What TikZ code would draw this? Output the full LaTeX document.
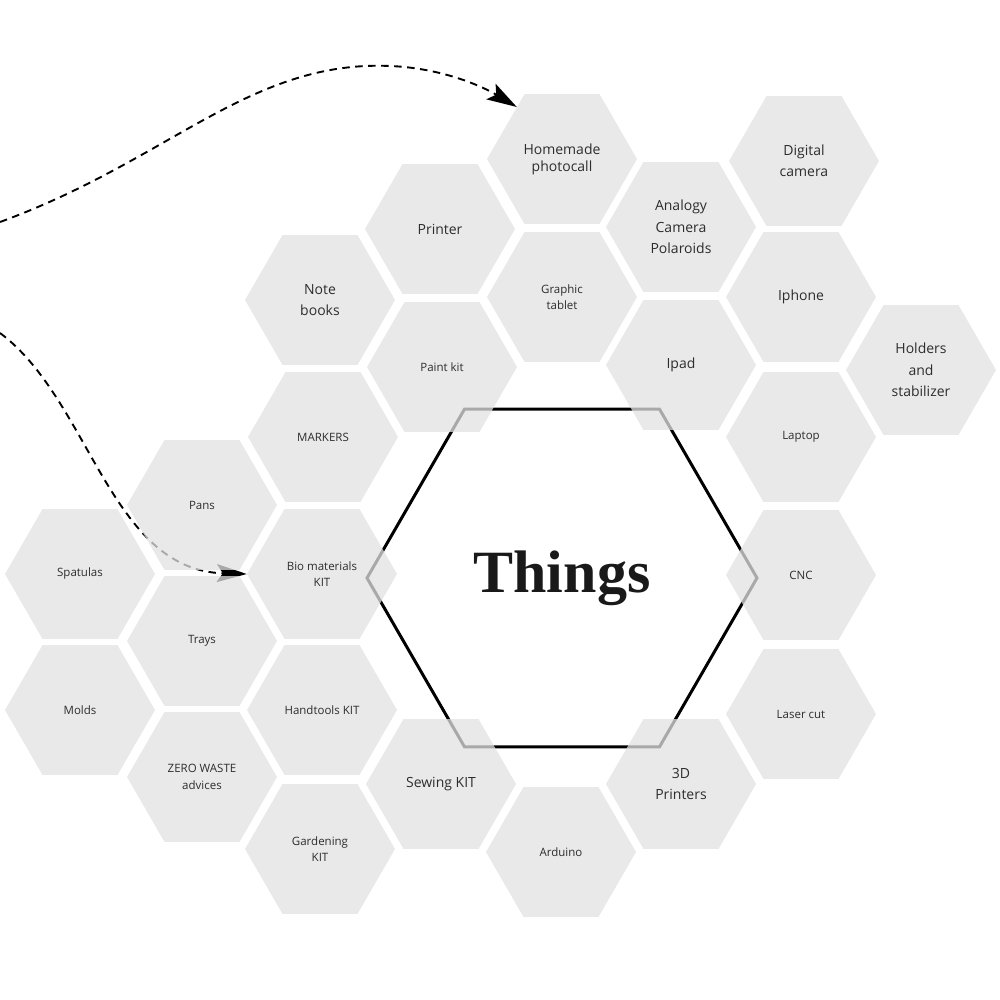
\documentclass[tikz,border=0pt]{standalone}
\usepackage{fontspec}
\setmainfont{Open Sans}
\newfontfamily\titlefont{Liberation Serif}
\usepackage{tikz}
\usetikzlibrary{shapes.geometric}
\usetikzlibrary{arrows.meta}
\usetikzlibrary{backgrounds}

\definecolor{hexgray}{RGB}{226,226,226}
\definecolor{inkgray}{RGB}{45,45,45}

\begin{document}
\begin{tikzpicture}[x=1pt,y=-1pt,
  hexa/.style={regular polygon,regular polygon sides=6,minimum size=150pt,inner sep=0pt,
    fill=hexgray,fill opacity=0.75,text opacity=1,text=inkgray,align=center},
  bighex/.style={hexa,font=\fontsize{14}{21.5}\selectfont},
  smallhex/.style={hexa,font=\fontsize{11.5}{16.5}\selectfont},
  trail/.style={line width=1.9pt,dash pattern=on 7.5pt off 5.5pt,
    -{Stealth[length=30pt,width=18pt,inset=6pt]}}]
\useasboundingbox (0,0) rectangle (1000,1000);

% centre
\node (things) at (562,578) [regular polygon,regular polygon sides=6,minimum size=390pt,
  inner sep=0pt,draw=black,line width=3pt,fill=white,text=black!90]
  {\titlefont\bfseries\fontsize{60}{60}\selectfont Things};

% right side
\node (homemade) at (562,159) [bighex,font=\fontsize{14}{17}\selectfont] {Homemade\\photocall};
\node (digital) at (804,161) [bighex] {Digital\\camera};
\node (printer) at (440,229) [bighex] {Printer};
\node (analogy) at (681,227) [bighex] {Analogy\\Camera\\Polaroids};
\node (notebooks) at (320,300) [bighex] {Note\\books};
\node (tablet) at (562,297) [smallhex] {Graphic\\tablet};
\node (iphone) at (801,297) [bighex] {Iphone};
\node (paintkit) at (442,367) [smallhex] {Paint kit};
\node (ipad) at (681,365) [bighex] {Ipad};
\node (holders) at (921,370) [bighex] {Holders\\and\\stabilizer};
\node (markers) at (323,437) [smallhex] {MARKERS};
\node (laptop) at (801,437) [smallhex] {Laptop};
\node (cnc) at (801,575) [smallhex] {CNC};
\node (lasercut) at (801,714) [smallhex] {Laser cut};
\node (printers3d) at (681,784) [bighex] {3D\\Printers};
\node (arduino) at (561,852) [smallhex] {Arduino};
\node (sewing) at (441,784) [bighex] {Sewing KIT};

% left side
\node (pans) at (202,505) [smallhex] {Pans};
\node (bio) at (322,574) [smallhex] {Bio materials\\KIT};
\node (spatulas) at (80,574) [smallhex] {Spatulas};
\node (trays) at (202,641) [smallhex] {Trays};
\node (molds) at (80,710) [smallhex] {Molds};
\node (handtools) at (322,710) [smallhex] {Handtools KIT};
\node (zerowaste) at (202,777) [smallhex] {ZERO WASTE\\advices};
\node (gardening) at (320,849) [smallhex] {Gardening\\KIT};

% dashed arrows, under the hexagons
\coordinate (in1) at (0,222);
\coordinate (in2) at (0,333);
\begin{scope}[on background layer]
\draw [trail] (in1) .. controls (170,160) and (250,60) .. (390,66)
  .. controls (440,68) and (480,85) .. (homemade.131);
\draw [trail] (in2) .. controls (90,400) and (110,570) .. (bio.180);
\end{scope}
\end{tikzpicture}
\end{document}
